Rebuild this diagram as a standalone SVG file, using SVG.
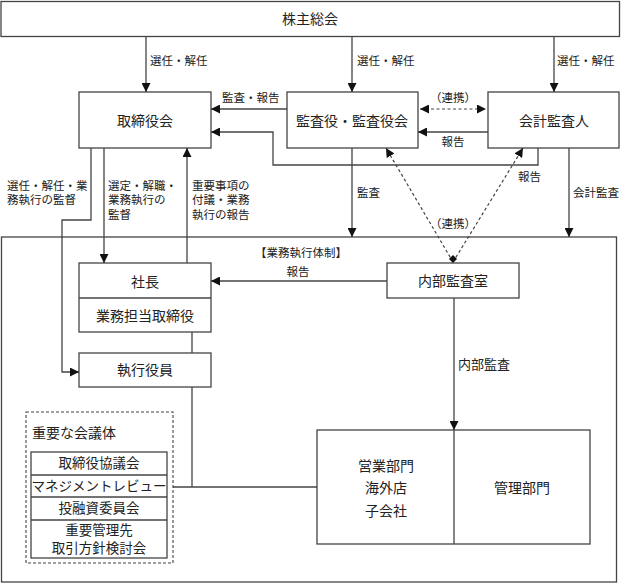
<svg xmlns="http://www.w3.org/2000/svg" width="621" height="583" viewBox="0 0 621 583">
<style>
text{font-family:"Liberation Serif","Noto Sans CJK JP",serif;fill:#222;}
.b{fill:#fff;stroke:#444;stroke-width:1.3;}
.n{font-size:14px;text-anchor:middle;}
.s{font-size:11.5px;}
.m{font-size:13.5px;text-anchor:middle;}
.l{fill:none;stroke:#444;stroke-width:1.3;}
.d{fill:none;stroke:#444;stroke-width:1.2;stroke-dasharray:3,2.5;}
</style>
<defs>
<marker id="a" viewBox="0 0 10 10" refX="10" refY="5" markerWidth="9" markerHeight="9" markerUnits="userSpaceOnUse" orient="auto-start-reverse"><path d="M0,0L10,5L0,10z" fill="#111"/></marker>
</defs>
<rect width="621" height="583" fill="#fff"/>
<g id="shareholders"><rect class="b" x="1" y="1.5" width="618.5" height="35"/><text class="n" x="310" y="24">株主総会</text></g>
<g id="exec-frame"><rect class="b" x="1.5" y="237" width="615" height="345" fill="none"/><text class="s" x="301" y="257" text-anchor="middle">【業務執行体制】</text></g>
<g id="board"><rect class="b" x="79" y="92" width="132" height="56"/><text class="n" x="145" y="126">取締役会</text></g>
<g id="auditors"><rect class="b" x="287" y="92" width="131" height="56"/><text class="n" x="352" y="126">監査役・監査役会</text></g>
<g id="accountant"><rect class="b" x="488" y="92" width="131" height="56"/><text class="n" x="554" y="126">会計監査人</text></g>
<g id="president"><rect class="b" x="79" y="263" width="132" height="69"/><line class="l" x1="79" y1="298" x2="211" y2="298"/><text class="n" x="145" y="287">社長</text><text class="n" x="145" y="321">業務担当取締役</text></g>
<g id="officers"><rect class="b" x="79" y="353" width="132" height="34"/><text class="n" x="145" y="375">執行役員</text></g>
<g id="internal-audit"><rect class="b" x="387" y="263" width="132" height="35"/><text class="n" x="453" y="286">内部監査室</text></g>
<g id="divisions"><rect class="b" x="317" y="430" width="273" height="114"/><line class="l" x1="454" y1="430" x2="454" y2="544"/><text class="n" x="386" y="471">営業部門</text><text class="n" x="386" y="493">海外店</text><text class="n" x="386" y="516">子会社</text><text class="n" x="522" y="493">管理部門</text></g>
<g id="meetings"><rect x="26" y="412" width="147" height="151" fill="none" stroke="#444" stroke-width="1.1" stroke-dasharray="3,2"/><text x="32" y="438" style="font-size:14px">重要な会議体</text>
<rect class="b" x="31" y="452" width="136" height="106"/><line class="l" x1="31" y1="475" x2="167" y2="475"/><line class="l" x1="31" y1="497" x2="167" y2="497"/><line class="l" x1="31" y1="520" x2="167" y2="520"/>
<text class="m" x="99" y="468">取締役協議会</text><text class="m" x="99" y="491">マネジメントレビュー</text><text class="m" x="99" y="513">投融資委員会</text><text class="m" x="99" y="535">重要管理先</text><text class="m" x="99" y="553">取引方針検討会</text></g>
<g id="connectors">
<line class="l" x1="146" y1="37" x2="146" y2="92" marker-end="url(#a)"/>
<line class="l" x1="352" y1="37" x2="352" y2="92" marker-end="url(#a)"/>
<line class="l" x1="554" y1="37" x2="554" y2="92" marker-end="url(#a)"/>
<text class="s" x="150" y="65">選任・解任</text><text class="s" x="357" y="65">選任・解任</text><text class="s" x="557" y="65">選任・解任</text>
<line class="l" x1="287" y1="109" x2="211" y2="109" marker-end="url(#a)"/><text class="s" x="222" y="102">監査・報告</text>
<polyline class="l" points="538,148 538,165 273,165 273,132 211,132" marker-end="url(#a)"/>
<line class="d" x1="420" y1="109" x2="486" y2="109" marker-start="url(#a)" marker-end="url(#a)"/><text class="s" x="453" y="102" text-anchor="middle">（連携）</text>
<line class="l" x1="488" y1="132" x2="418" y2="132" marker-end="url(#a)"/><text class="s" x="453" y="146" text-anchor="middle">報告</text>
<line class="d" x1="453" y1="262" x2="386" y2="148" marker-end="url(#a)"/>
<line class="d" x1="453" y1="262" x2="523" y2="148" marker-end="url(#a)"/>
<path d="M449,259L453,255L457,259L453,263z" fill="#111"/>
<text class="s" x="453" y="228" text-anchor="middle">（連携）</text>
<text class="s" x="518" y="181">報告</text>
<line class="l" x1="352" y1="148" x2="352" y2="237" marker-end="url(#a)"/><text class="s" x="357" y="197">監査</text>
<line class="l" x1="569" y1="148" x2="569" y2="237" marker-end="url(#a)"/><text class="s" x="573" y="197">会計監査</text>
<polyline class="l" points="91,148 91,220 62,220 62,372 79,372" marker-end="url(#a)"/>
<text class="s" x="7" y="190">選任・解任・業</text><text class="s" x="7" y="204">務執行の監督</text>
<line class="l" x1="104" y1="148" x2="104" y2="263" marker-end="url(#a)"/>
<text class="s" x="108" y="190">選定・解職・</text><text class="s" x="108" y="204">業務執行の</text><text class="s" x="108" y="219">監督</text>
<line class="l" x1="187" y1="263" x2="187" y2="148" marker-end="url(#a)"/>
<text class="s" x="192" y="190">重要事項の</text><text class="s" x="192" y="204">付議・業務</text><text class="s" x="192" y="219">執行の報告</text>
<line class="l" x1="387" y1="281" x2="211" y2="281" marker-end="url(#a)"/><text class="s" x="298" y="276" text-anchor="middle">報告</text>
<line class="l" x1="454" y1="298" x2="454" y2="430" marker-end="url(#a)"/><text x="458" y="369" style="font-size:13px">内部監査</text>
<line class="l" x1="192" y1="332" x2="192" y2="353"/>
<polyline class="l" points="192,387 192,487"/>
<line class="l" x1="173" y1="487" x2="317" y2="487"/>
</g>
</svg>
